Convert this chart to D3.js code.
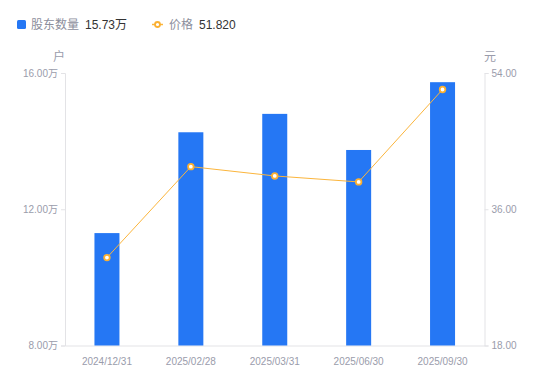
<!DOCTYPE html>
<html>
<head>
<meta charset="utf-8">
<script src="https://cdn.jsdelivr.net/npm/d3@7"></script>
<style>
  body { margin: 0; background: #fff; }
  svg text { font-family: "Liberation Sans", "Noto Sans CJK SC", sans-serif; }
</style>
</head>
<body>
<svg id="chart"></svg>
<script>
var dates = ["2024/12/31", "2025/02/28", "2025/03/31", "2025/06/30", "2025/09/30"];
var holders = [11.30, 14.26, 14.80, 13.74, 15.73];   // 万户
var prices = [29.61, 41.63, 40.40, 39.61, 51.82];    // 元
var leftTicks = [8, 12, 16];
var rightTicks = [18, 36, 54];

var width = 550, height = 381;
var margin = {top: 73, right: 65.5, bottom: 35.5, left: 65};
var svg = d3.select("#chart").attr("width", width).attr("height", height);

var x = d3.scaleBand().domain(dates).range([margin.left, width - margin.right]);
var yL = d3.scaleLinear().domain([8, 16]).range([height - margin.bottom, margin.top]);
var yR = d3.scaleLinear().domain([18, 54]).range([height - margin.bottom, margin.top]);

var axisColor = "#e3e3e6", labelColor = "#9a9cab";

// left axis
var gl = svg.append("g")
  .attr("transform", "translate(" + margin.left + ",0)")
  .call(d3.axisLeft(yL).tickValues(leftTicks).tickSize(4).tickPadding(3)
    .tickFormat(function(d) { return d3.format(".2f")(d) + "万"; }));
// right axis
var gr = svg.append("g")
  .attr("transform", "translate(" + (width - margin.right) + ",0)")
  .call(d3.axisRight(yR).tickValues(rightTicks).tickSize(4).tickPadding(3)
    .tickFormat(d3.format(".2f")));
// bottom axis
var gb = svg.append("g")
  .attr("transform", "translate(0," + (height - margin.bottom) + ")")
  .call(d3.axisBottom(x).tickSize(0).tickPadding(12));

[gl, gr, gb].forEach(function(g) {
  g.select(".domain").attr("stroke", axisColor);
  g.selectAll(".tick line").attr("stroke", axisColor);
  g.selectAll("text").attr("fill", labelColor).style("font-size", "10px");
});

// unit labels
svg.append("text").attr("x", 59).attr("y", 61).attr("text-anchor", "middle")
  .attr("fill", labelColor).style("font-size", "12px").text("户");
svg.append("text").attr("x", 490).attr("y", 61).attr("text-anchor", "middle")
  .attr("fill", labelColor).style("font-size", "12px").text("元");

// bars
var barW = 25;
svg.selectAll(".bar")
  .data(holders)
  .enter().append("rect")
  .attr("class", "bar")
  .attr("x", function(d, i) { return x(dates[i]) + x.bandwidth() / 2 - barW / 2; })
  .attr("y", function(d) { return yL(d); })
  .attr("width", barW)
  .attr("height", function(d) { return yL(8) - yL(d); })
  .attr("fill", "#2577f4");

// price line
var line = d3.line()
  .x(function(d, i) { return x(dates[i]) + x.bandwidth() / 2; })
  .y(function(d) { return yR(d); });
svg.append("path")
  .datum(prices)
  .attr("d", line)
  .attr("fill", "none")
  .attr("stroke", "#fbb53c")
  .attr("stroke-width", 1);
svg.selectAll(".pt")
  .data(prices)
  .enter().append("circle")
  .attr("class", "pt")
  .attr("cx", function(d, i) { return x(dates[i]) + x.bandwidth() / 2; })
  .attr("cy", function(d) { return yR(d); })
  .attr("r", 2.8)
  .attr("fill", "#fff")
  .attr("stroke", "#fbb032")
  .attr("stroke-width", 1.8);

// legend
var lg = svg.append("g");
lg.append("rect").attr("x", 17).attr("y", 20).attr("width", 9).attr("height", 9)
  .attr("rx", 1.5).attr("fill", "#2577f4");
lg.append("text").attr("x", 31).attr("y", 29).attr("fill", "#8c8e9c")
  .style("font-size", "12px").text("股东数量");
lg.append("text").attr("x", 85).attr("y", 29).attr("fill", "#333")
  .style("font-size", "12px").text(d3.format(".2f")(holders[holders.length - 1]) + "万");
lg.append("line").attr("x1", 152).attr("x2", 163).attr("y1", 24.5).attr("y2", 24.5)
  .attr("stroke", "#fbb53c").attr("stroke-width", 1.5);
lg.append("circle").attr("cx", 157.5).attr("cy", 24.5).attr("r", 2.5)
  .attr("fill", "#fff").attr("stroke", "#fbb032").attr("stroke-width", 1.8);
lg.append("text").attr("x", 169).attr("y", 29).attr("fill", "#8c8e9c")
  .style("font-size", "12px").text("价格");
lg.append("text").attr("x", 199).attr("y", 29).attr("fill", "#333")
  .style("font-size", "12px").text(d3.format(".3f")(prices[prices.length - 1]));
</script>
</body>
</html>
